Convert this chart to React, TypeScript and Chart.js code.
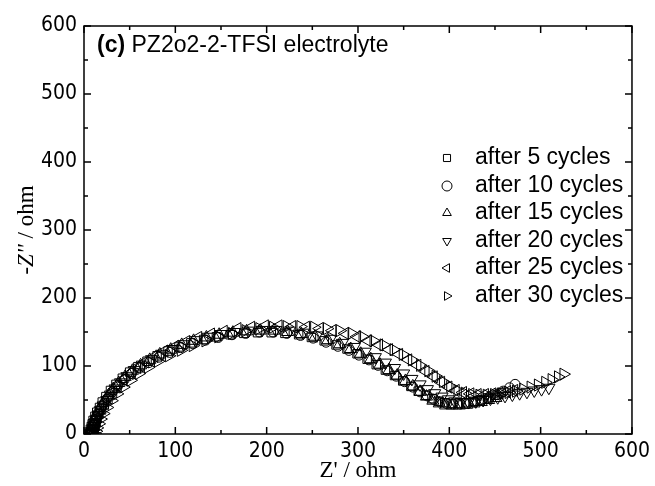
import React, { useEffect, useRef } from "react";
import { Chart, registerables } from "chart.js";

Chart.register(...registerables);

const seriesLabels = ["after 5 cycles", "after 10 cycles", "after 15 cycles", "after 20 cycles", "after 25 cycles", "after 30 cycles"];
const pointStyles = ["rect", "circle", "triangle", "triangle", "triangle", "triangle"];
const pointRotations = [0, 0, 0, 180, 270, 90];
const pointRadii = [6, 5, 7, 7, 7, 7];

const x5 = [5,6,7,8,9,10,12,14,17,20,24,29,35,42,50,59,69,80,92,104,117,131,145,160,175,190,205,220,235,249,263,276,288,299,310,320,330,340,349,358,366,374,381,388,395,402,410,418,426,434,442,450,457];
const y5 = [0,3,7,11,15,20,26,32,39,47,55,64,73,82,91,99,107,115,122,128,134,139,143,146,148,149,149,148,146,142,137,131,125,118,110,102,94,86,78,70,63,57,52,48,46,45,45,46,48,50,53,57,61];

const x10 = [6,7,8,9,10,11,13,15,18,22,26,31,37,44,52,61,71,82,94,106,119,133,147,162,177,192,207,222,237,251,265,278,290,301,312,322,332,342,351,360,368,376,383,390,397,404,412,420,428,436,444,452,459,466,472];
const y10 = [0,3,6,10,14,19,24,30,37,45,53,62,71,80,89,97,105,113,120,127,133,138,142,146,148,150,150,148,145,141,135,129,123,116,109,101,93,85,77,69,62,56,51,47,45,44,44,45,47,50,54,58,63,68,73];

const x15 = [7,8,9,10,11,12,14,16,19,23,27,32,38,45,53,62,72,83,95,107,120,134,148,163,178,193,208,223,238,253,267,280,292,303,314,324,334,343,352,360,368,375,382,389,396,403,411,419,427,435,443,451];
const y15 = [0,4,8,12,17,22,28,34,41,49,57,66,75,84,93,101,109,117,124,131,137,142,146,149,151,152,152,150,147,143,138,132,125,118,110,102,94,86,78,70,62,55,49,45,42,42,42,43,45,47,50,53];

const x20 = [9,10,11,12,13,14,16,18,21,25,29,34,40,47,55,64,74,85,97,109,122,136,150,165,180,195,210,225,240,255,270,283,296,308,319,330,340,350,359,368,376,384,392,399,406,413,421,429,437,445,453,461,469,477,485,493,501,509];
const y20 = [0,4,8,12,17,22,28,35,42,50,58,67,76,85,94,102,110,118,125,132,138,143,147,150,152,153,153,152,149,145,140,134,128,121,113,105,97,89,81,73,66,60,55,51,48,47,47,48,50,52,54,56,58,60,62,64,66,68];

const x25 = [10,11,12,13,14,15,17,20,23,27,32,37,43,50,58,67,77,88,100,112,125,139,153,168,183,198,213,228,243,258,272,286,299,311,323,334,345,355,365,374,383,391,399,407,415,423,431,439,447,455,463,471];
const y25 = [0,4,9,14,19,25,31,38,45,53,62,71,80,89,98,106,114,122,129,136,142,147,151,155,157,159,159,158,157,155,152,148,143,137,131,124,117,109,101,92,84,76,69,64,61,59,58,58,59,60,62,64];

const x30 = [12,13,14,16,18,21,25,30,36,43,51,60,70,81,93,106,119,133,147,162,177,192,207,222,237,252,266,280,293,305,317,328,339,349,359,368,377,385,393,401,409,417,425,433,441,449,457,465,473,481,489,497,505,512,519,525];
const y30 = [0,4,9,15,22,30,39,49,59,69,79,89,98,107,115,123,130,137,143,148,152,155,157,158,158,157,155,152,148,143,137,131,124,117,109,101,93,85,77,70,64,60,58,57,57,58,59,61,63,66,69,72,76,80,84,88];

const xSeries = [x5, x10, x15, x20, x25, x30];
const ySeries = [y5, y10, y15, y20, y25, y30];

const axisMin = 0;
const axisMax = 600;
const majorStep = 100;
const minorStep = 50;

const SANS = "'Liberation Sans', Arial, sans-serif";
const NARROW = "'Liberation Sans Narrow', 'Arial Narrow', 'DejaVu Sans Condensed', 'Liberation Sans', sans-serif";
const SERIF = "'Liberation Serif', 'Times New Roman', serif";

function drawPointShape(ctx: CanvasRenderingContext2D, style: string, rot: number, r: number, x: number, y: number) {
  ctx.beginPath();
  if (style === "circle") {
    ctx.arc(x, y, r, 0, Math.PI * 2);
  } else if (style === "rect") {
    const s = r * Math.SQRT1_2;
    ctx.rect(x - s, y - s, 2 * s, 2 * s);
  } else {
    const rad = (rot * Math.PI) / 180;
    for (let k = 0; k < 3; k++) {
      const a = rad + (k * 2 * Math.PI) / 3;
      const px = x + Math.sin(a) * r;
      const py = y - Math.cos(a) * r;
      if (k === 0) ctx.moveTo(px, py);
      else ctx.lineTo(px, py);
    }
    ctx.closePath();
  }
  ctx.stroke();
}

const decorPlugin = {
  id: "decor",
  afterDraw(chart: any) {
    const ctx: CanvasRenderingContext2D = chart.ctx;
    const { left, right, top, bottom } = chart.chartArea;
    const xs = chart.scales.x;
    const ys = chart.scales.y;
    ctx.save();
    ctx.strokeStyle = "#000";
    ctx.lineWidth = 1.5;
    ctx.strokeRect(left, top, right - left, bottom - top);
    ctx.beginPath();
    for (let v = axisMin; v <= axisMax; v += minorStep) {
      const len = v % majorStep === 0 ? 7 : 4;
      const px = xs.getPixelForValue(v);
      ctx.moveTo(px, bottom);
      ctx.lineTo(px, bottom - len);
      ctx.moveTo(px, top);
      ctx.lineTo(px, top + len);
      const py = ys.getPixelForValue(v);
      ctx.moveTo(left, py);
      ctx.lineTo(left + len, py);
      ctx.moveTo(right, py);
      ctx.lineTo(right - len, py);
    }
    ctx.stroke();

    ctx.fillStyle = "#000";
    ctx.textBaseline = "middle";
    // annotation title
    ctx.textAlign = "left";
    ctx.font = `bold 23px ${SANS}`;
    const boldPart = "(c)";
    ctx.fillText(boldPart, 97, 46);
    const bw = ctx.measureText(boldPart).width;
    ctx.font = `23px ${SANS}`;
    ctx.fillText(" PZ2o2-2-TFSI electrolyte", 97 + bw, 46);

    // legend
    const rowY = [158, 186, 213, 241, 268, 296];
    ctx.lineWidth = 1;
    for (let i = 0; i < seriesLabels.length; i++) {
      drawPointShape(ctx, pointStyles[i], pointRotations[i], 5, 447, rowY[i]);
      ctx.font = `23px ${SANS}`;
      ctx.fillText(seriesLabels[i], 475, rowY[i]);
    }

    // x axis title
    ctx.font = `23px ${SERIF}`;
    ctx.textAlign = "center";
    ctx.textBaseline = "alphabetic";
    ctx.fillText("Z' / ohm", (left + right) / 2, 477);

    // y axis title (rotated)
    ctx.save();
    ctx.translate(33, (top + bottom) / 2);
    ctx.rotate(-Math.PI / 2);
    const p1 = "-";
    const p2 = "Z''";
    const p3 = " / ohm";
    ctx.font = `23px ${SERIF}`;
    const w1 = ctx.measureText(p1).width;
    const w3 = ctx.measureText(p3).width;
    ctx.font = `italic 23px ${SERIF}`;
    const w2 = ctx.measureText(p2).width;
    let sx = -(w1 + w2 + w3) / 2;
    ctx.textAlign = "left";
    ctx.font = `23px ${SERIF}`;
    ctx.fillText(p1, sx, 0);
    sx += w1;
    ctx.font = `italic 23px ${SERIF}`;
    ctx.fillText(p2, sx, 0);
    sx += w2;
    ctx.font = `23px ${SERIF}`;
    ctx.fillText(p3, sx, 0);
    ctx.restore();

    ctx.restore();
  },
};

export default function App() {
  const canvasRef = useRef<HTMLCanvasElement | null>(null);

  useEffect(() => {
    const canvas = canvasRef.current;
    if (!canvas) return;
    const datasets = seriesLabels.map((label, i) => ({
      label,
      data: xSeries[i].map((xv, j) => ({ x: xv, y: ySeries[i][j] })),
      showLine: false,
      pointStyle: pointStyles[i],
      rotation: pointRotations[i],
      pointRadius: pointRadii[i],
      pointBorderWidth: 1,
      pointBorderColor: "#000",
      pointBackgroundColor: "rgba(0,0,0,0)",
      borderColor: "#000",
      backgroundColor: "rgba(0,0,0,0)",
    }));
    const chart = new Chart(canvas, {
      type: "scatter",
      data: { datasets },
      options: {
        responsive: false,
        devicePixelRatio: 1,
        animation: false,
        events: [],
        layout: { padding: { left: 0, right: 16, top: 26, bottom: 0 } },
        plugins: { legend: { display: false }, tooltip: { enabled: false }, title: { display: false } },
        scales: {
          x: {
            type: "linear",
            min: axisMin,
            max: axisMax,
            ticks: { stepSize: majorStep, color: "#000", padding: 5, font: { family: NARROW, size: 21 } },
            grid: { display: false, drawTicks: false },
            border: { display: false },
            afterFit: (s: any) => { s.height = 52; },
          },
          y: {
            type: "linear",
            min: axisMin,
            max: axisMax,
            ticks: { stepSize: majorStep, color: "#000", padding: 7, font: { family: NARROW, size: 21 } },
            grid: { display: false, drawTicks: false },
            border: { display: false },
            afterFit: (s: any) => { s.width = 84; },
          },
        },
      },
      plugins: [decorPlugin],
    } as any);
    return () => chart.destroy();
  }, []);

  return (
    <div style={{ position: "absolute", left: 0, top: 0, width: 655, height: 486, background: "#fff" }}>
      <canvas ref={canvasRef} width={655} height={486} style={{ display: "block" }} />
    </div>
  );
}
